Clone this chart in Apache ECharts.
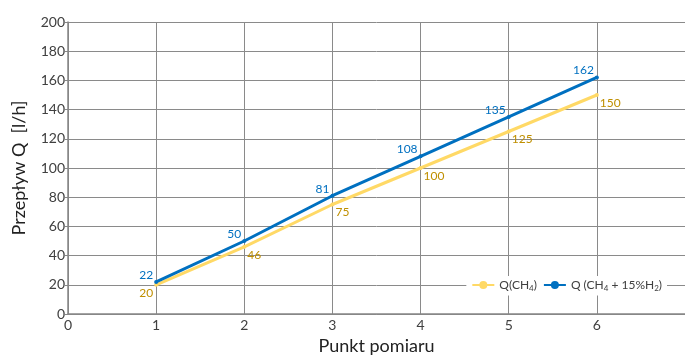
<!DOCTYPE html>
<html>
<head>
<meta charset="utf-8">
<script src="https://cdn.jsdelivr.net/npm/echarts@6/dist/echarts.min.js"></script>
<style>
  html, body { margin: 0; padding: 0; background: #fff; }
  #chart { width: 685px; height: 356px; }
</style>
</head>
<body>
<div id="chart"></div>
<script>
// punkty pomiaru i przepływy
const points = [1, 2, 3, 4, 5, 6];
const qCH4 = [20, 46, 75, 100, 125, 150];
const qCH4H2 = [22, 50, 81, 108, 135, 162];
const seriesNames = ['Q(CH4)', 'Q (CH4 + 15%H2)'];

const FONT = 'Lato';
const BLUE = '#0070C0';
const YELLOW = '#FFD966';
const GOLD = '#BF8F00';

const myChart = echarts.init(document.getElementById('chart'));

// dane jako pary [x, y]
const pairs = (ys) => points.map((x, i) => [x, ys[i]]);

const yellowData = pairs(qCH4).map((p, i) => {
    // pierwsza etykieta po lewej
    if (i === 0) {
        return { value: p, label: { position: 'left', offset: [0, 8] } };
    }
    return { value: p };
});

const option = {
    animation: false,
    textStyle: { fontFamily: FONT },
    grid: { left: 68, top: 22, right: 0, bottom: 42, outerBoundsMode: 'none' },
    legend: {
        data: seriesNames,
        right: 18,
        top: 276,
        backgroundColor: '#fff',
        padding: [3, 5],
        itemGap: 6,
        itemWidth: 22,
        itemHeight: 10,
        formatter: function (name) {
            if (name === seriesNames[0]) {
                return '{a|Q(CH}{s|4}{a|)}';
            }
            return '{a|Q (CH}{s|4}{a| + 15%H}{s|2}{a|)}';
        },
        textStyle: {
            rich: {
                a: { fontFamily: FONT, fontSize: 12, color: '#404040' },
                s: { fontFamily: FONT, fontSize: 8, color: '#404040', padding: [7, 0, 0, 0] }
            }
        }
    },
    xAxis: {
        type: 'value',
        min: 0,
        max: 7,
        interval: 1,
        name: 'Punkt pomiaru',
        nameLocation: 'middle',
        nameGap: 22,
        nameTextStyle: { fontFamily: FONT, fontSize: 18, color: '#222' },
        axisLine: { lineStyle: { color: '#868686', width: 1.5 } },
        axisTick: { show: false },
        axisLabel: {
            fontFamily: FONT, fontSize: 14, color: '#404040', margin: 4,
            showMaxLabel: false
        },
        splitLine: { show: true, lineStyle: { color: '#8a8a8a', width: 1 } }
    },
    yAxis: {
        type: 'value',
        min: 0,
        max: 200,
        interval: 20,
        name: 'Przepływ Q  [l/h]',
        nameLocation: 'middle',
        nameGap: 40,
        nameTextStyle: { fontFamily: FONT, fontSize: 18, color: '#222' },
        axisLine: { show: true, lineStyle: { color: '#868686', width: 1.5 } },
        axisTick: { show: true, length: 3, lineStyle: { color: '#868686' } },
        axisLabel: { fontFamily: FONT, fontSize: 14, color: '#404040', margin: 3 },
        splitLine: { show: true, lineStyle: { color: '#8a8a8a', width: 1 } }
    },
    series: [
        {
            name: seriesNames[0],
            type: 'line',
            data: yellowData,
            symbol: 'circle',
            symbolSize: 4,
            color: YELLOW,
            lineStyle: { width: 3, color: YELLOW },
            label: {
                show: true,
                position: 'right',
                distance: 1,
                offset: [0, 8],
                color: GOLD,
                fontFamily: FONT,
                fontSize: 12,
                formatter: (p) => p.value[1]
            },
            z: 2
        },
        {
            name: seriesNames[1],
            type: 'line',
            data: pairs(qCH4H2),
            symbol: 'circle',
            symbolSize: 4,
            color: BLUE,
            lineStyle: { width: 3, color: BLUE },
            label: {
                show: true,
                position: 'left',
                distance: 1,
                offset: [0, -7],
                color: BLUE,
                fontFamily: FONT,
                fontSize: 12,
                formatter: (p) => p.value[1]
            },
            z: 3
        }
    ]
};

myChart.setOption(option);
</script>
</body>
</html>
